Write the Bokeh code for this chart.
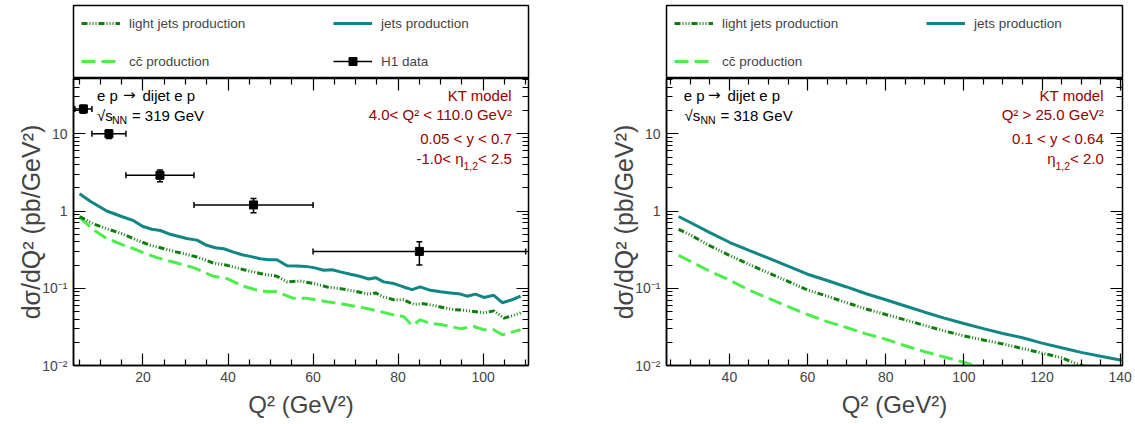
import math
import numpy as np
from bokeh.plotting import figure
from bokeh.layouts import column, row
from bokeh.core.properties import value
from bokeh.models import (Legend, LegendItem, LinearAxis, LogAxis, FixedTicker,
                          CustomJSTickFormatter, Whisker, TeeHead, ColumnDataSource, Range1d)
from bokeh.embed import file_html
from bokeh.resources import INLINE

FONT = "Liberation Sans"
TEAL = "#128585"
DARKGREEN = "#0f7d0f"
LIGHTGREEN = "#4ded4d"
MAROON = "#990000"

# ---------------- data: left panel (4 < Q2 < 110, sqrt(s)=319 GeV) ----------------
left_jets_q2 = [5.1, 7.6, 11.5, 15.0, 17.8, 20.0, 22.1, 24.1, 26.4, 30.3, 32.7, 35.0, 37.0, 39.0,
                41.3, 43.3, 45.2, 47.6, 49.6, 51.5, 53.9, 56.2, 58.2, 60.2, 62.5, 64.5, 66.4, 68.8,
                70.7, 73.1, 74.7, 76.6, 79.0, 81.3, 83.3, 85.2, 87.6, 90.0, 92.3, 94.7, 96.2, 98.2,
                100.2, 102.5, 104.5, 106.8, 108.8]
left_jets = [1.67, 1.34, 1.0, 0.85, 0.75, 0.63, 0.58, 0.56, 0.50, 0.44, 0.42, 0.36, 0.335, 0.325,
             0.294, 0.272, 0.259, 0.241, 0.234, 0.234, 0.196, 0.194, 0.192, 0.185, 0.171, 0.174,
             0.163, 0.152, 0.144, 0.132, 0.137, 0.121, 0.115, 0.104, 0.096, 0.104, 0.094, 0.090,
             0.087, 0.084, 0.079, 0.084, 0.076, 0.081, 0.065, 0.071, 0.079]

left_light_q2 = [5.1, 8.4, 11.5, 15.0, 18.6, 21.7, 24.1, 28.0, 32.7, 36.6, 39.8, 43.7, 47.6, 51.5,
                 53.9, 57.0, 60.2, 63.3, 66.4, 69.6, 73.1, 74.7, 76.6, 79.0, 81.3, 83.7, 86.0, 88.4,
                 90.7, 93.1, 95.4, 97.8, 100.2, 102.5, 104.9, 106.8, 108.8]
left_light = [0.85, 0.68, 0.59, 0.51, 0.42, 0.36, 0.335, 0.294, 0.254, 0.212, 0.198, 0.174, 0.155,
              0.143, 0.121, 0.124, 0.115, 0.104, 0.099, 0.092, 0.084, 0.087, 0.077, 0.071, 0.071,
              0.062, 0.063, 0.060, 0.056, 0.053, 0.052, 0.050, 0.048, 0.051, 0.041, 0.044, 0.048]

left_cc_q2 = [5.1, 8.4, 11.5, 15.0, 17.8, 20.2, 23.3, 28.0, 31.9, 36.6, 39.8, 43.7, 47.6, 51.5,
              55.4, 58.6, 63.3, 67.2, 71.1, 75.1, 79.0, 81.3, 83.3, 85.2, 87.6, 90.0, 92.3, 94.7,
              97.8, 100.2, 102.5, 104.5, 108.8]
left_cc = [0.83, 0.57, 0.44, 0.37, 0.325, 0.286, 0.249, 0.212, 0.185, 0.143, 0.133, 0.106, 0.092,
           0.090, 0.074, 0.074, 0.067, 0.062, 0.057, 0.051, 0.045, 0.043, 0.033, 0.039, 0.035,
           0.034, 0.032, 0.030, 0.032, 0.029, 0.029, 0.025, 0.029]

# H1 data points
h1_q2 = [6.0, 12.0, 24.0, 46.0, 85.0]
h1_q2_lo = [4.0, 8.0, 16.0, 32.0, 60.0]
h1_q2_hi = [8.0, 16.0, 32.0, 60.0, 110.0]
h1_xsec = [21.0, 10.0, 2.9, 1.2, 0.30]
h1_err = [2.5, 1.3, 0.5, 0.25, 0.10]

# ---------------- data: right panel (Q2 > 25, sqrt(s)=318 GeV) ----------------
right_jets_q2 = [27, 30, 35, 40, 45, 50, 55, 60, 65, 70, 75, 80, 85, 90, 95, 100, 105, 110, 115,
                 120, 125, 130, 135, 140.7]
right_jets = [0.85, 0.71, 0.525, 0.394, 0.31, 0.245, 0.193, 0.152, 0.126, 0.104, 0.085, 0.071,
              0.059, 0.049, 0.041, 0.035, 0.030, 0.026, 0.0229, 0.0195, 0.0170, 0.0148, 0.0132,
              0.0116]
right_light_q2 = [27, 30, 35, 40, 45, 50, 55, 60, 65, 70, 75, 80, 85, 90, 95, 100, 105, 110, 115,
                  120, 125, 130, 135]
right_light = [0.58, 0.49, 0.355, 0.267, 0.204, 0.158, 0.123, 0.095, 0.079, 0.065, 0.054, 0.0457,
               0.039, 0.033, 0.028, 0.0242, 0.0214, 0.019, 0.0166, 0.0145, 0.0126, 0.0100, 0.0087]
right_cc_q2 = [27, 30, 35, 40, 45, 50, 55, 60, 65, 70, 75, 80, 85, 90, 95, 100, 105]
right_cc = [0.267, 0.224, 0.166, 0.128, 0.095, 0.074, 0.058, 0.0457, 0.037, 0.031, 0.0257, 0.0219,
            0.018, 0.0151, 0.0129, 0.011, 0.0093]

# ---------------- ticks / texts ----------------
y_ticks = [0.01, 0.1, 1, 10]
y_tick_labels = ["10\u207b\u00b2", "10\u207b\u00b9", "1", "10"]
y_minor = [0.02, 0.03, 0.04, 0.05, 0.06, 0.07, 0.08, 0.09, 0.2, 0.3, 0.4, 0.5, 0.6, 0.7, 0.8, 0.9,
           2, 3, 4, 5, 6, 7, 8, 9, 20, 30, 40, 50]
left_x_ticks = [20, 40, 60, 80, 100]
left_x_minor = [5, 10, 15, 25, 30, 35, 45, 50, 55, 65, 70, 75, 85, 90, 95, 105, 110]
right_x_ticks = [40, 60, 80, 100, 120, 140]
right_x_minor = [25, 30, 35, 45, 50, 55, 65, 70, 75, 85, 90, 95, 105, 110, 115, 125, 130, 135]

legend_labels = ["light jets production", "jets production", "cc\u0304 production", "H1 data"]

YLABEL = "d\u03c3/dQ\u00b2 (pb/GeV\u00b2)"
XLABEL = "Q\u00b2 (GeV\u00b2)"

left_texts = ["e p", "dijet e p", "\u221as", "NN", "= 319 GeV",
              "KT model", "4.0< Q\u00b2 < 110.0 GeV\u00b2", "0.05 < y < 0.7",
              "< 2.5", "1,2", "-1.0< \u03b7"]
right_texts = ["e p", "dijet e p", "\u221as", "NN", "= 318 GeV",
               "KT model", "Q\u00b2 > 25.0 GeV\u00b2", "0.1 < y < 0.64",
               "< 2.0", "1,2", "\u03b7"]
ARROW = "\u2192"

LIGHT_DASH = "6 2 1 2 1 2 1 2"
CC_DASH = "14 6"

FRAME_H = 287
YR = (0.01, 52.0)


def make_main(xr, xt, xminor, width, bl, br):
    p = figure(width=width, height=346, x_range=Range1d(*xr), y_range=Range1d(*YR),
               y_axis_type="log", output_backend="svg", toolbar_location=None,
               min_border_left=bl, min_border_right=br, min_border_top=0, min_border_bottom=59)
    p.title.visible = False
    p.grid.visible = False
    p.outline_line_color = "black"
    p.outline_line_width = 1.5
    p.background_fill_color = "white"
    fmt = CustomJSTickFormatter(args=dict(yt=y_ticks, yl=y_tick_labels), code="""
        for (let i = 0; i < yt.length; i++) {
            if (Math.abs(Math.log10(yt[i]) - Math.log10(tick)) < 1e-6) return yl[i];
        }
        return "";
    """)
    for ax in p.axis:
        ax.axis_label_text_font = FONT
        ax.axis_label_text_font_style = "normal"
        ax.major_label_text_font = FONT
        ax.major_label_text_font_size = "14px"
        ax.major_tick_in = 12
        ax.major_tick_out = 0
        ax.minor_tick_in = 6
        ax.minor_tick_out = 0
        ax.axis_line_width = 1.5
        ax.major_tick_line_width = 1.2
        ax.minor_tick_line_width = 1.2
    for ax in p.yaxis:
        ax.ticker = FixedTicker(ticks=y_ticks, minor_ticks=y_minor)
        ax.formatter = fmt
        ax.axis_label = YLABEL
        ax.axis_label_text_font_size = "25px"
        ax.axis_label_standoff = -6
        ax.major_label_standoff = 6
    for ax in p.xaxis:
        ax.ticker = FixedTicker(ticks=xt, minor_ticks=xminor)
        ax.axis_label = XLABEL
        ax.axis_label_text_font_size = "24px"
        ax.axis_label_standoff = 6
        ax.major_label_standoff = 6
    # mirrored axes (ticks only)
    blank = CustomJSTickFormatter(code="return '';")
    top = LinearAxis(ticker=FixedTicker(ticks=xt, minor_ticks=xminor), formatter=blank)
    right = LogAxis(ticker=FixedTicker(ticks=y_ticks, minor_ticks=y_minor), formatter=blank)
    for ax in (top, right):
        ax.major_label_text_font_size = "1px"
        ax.major_label_standoff = 0
        ax.major_tick_in = 12
        ax.major_tick_out = 0
        ax.minor_tick_in = 6
        ax.minor_tick_out = 0
        ax.axis_line_alpha = 0
        ax.major_tick_line_width = 1.2
        ax.minor_tick_line_width = 1.2
    p.add_layout(top, "above")
    p.add_layout(right, "right")
    return p


def make_legend_fig(width, bl, br, with_h1):
    lf = figure(width=width, height=78, x_range=(0, 1), y_range=(0, 1),
                output_backend="svg", toolbar_location=None,
                x_axis_location=None, y_axis_location=None,
                min_border_left=bl, min_border_right=br, min_border_top=5, min_border_bottom=0)
    lf.title.visible = False
    lf.grid.visible = False
    lf.outline_line_color = "black"
    lf.outline_line_width = 1.5
    nan = np.array([np.nan])
    r_light = lf.line(nan, nan, line_color=DARKGREEN, line_width=3, line_dash=LIGHT_DASH)
    r_jets = lf.line(nan, nan, line_color=TEAL, line_width=3)
    r_cc = lf.line(nan, nan, line_color=LIGHTGREEN, line_width=3, line_dash=CC_DASH)
    col1 = [LegendItem(label=legend_labels[0], renderers=[r_light]),
            LegendItem(label=legend_labels[2], renderers=[r_cc])]
    col2 = [LegendItem(label=legend_labels[1], renderers=[r_jets])]
    if with_h1:
        r_h1l = lf.line(nan, nan, line_color="black", line_width=1.5)
        r_h1p = lf.scatter(nan, nan, marker="square", size=8, color="black")
        col2.append(LegendItem(label=legend_labels[3], renderers=[r_h1l, r_h1p]))
    for items, loc in ((col1, (8, 7)), (col2, (260, 7 if with_h1 else 45))):
        lg = Legend(items=items, location=loc, glyph_width=39, glyph_height=20, label_height=20,
                    label_standoff=9, spacing=18, padding=0, margin=0,
                    border_line_alpha=0, background_fill_alpha=0,
                    label_text_font=FONT, label_text_font_size="13.5px")
        lf.add_layout(lg)
    return lf


def add_texts(p, xr, fw, texts, sxs, sys_, align, size, color, font=FONT):
    """Place texts at frame-relative pixel offsets converted through the axis ranges."""
    lo, hi = math.log10(YR[0]), math.log10(YR[1])
    xs = [xr[0] + sx / fw * (xr[1] - xr[0]) for sx in sxs]
    ys = [10 ** (lo + sy / FRAME_H * (hi - lo)) for sy in sys_]
    src = ColumnDataSource(dict(x=xs, y=ys, t=texts))
    p.text("x", "y", text="t", source=src, text_align=align, text_baseline="middle",
           text_font=value(font), text_font_size=value(size), text_color=color)


def draw_curves(p, jq, jv, lq, lv, cq, cv):
    p.line(cq, cv, line_color=LIGHTGREEN, line_width=3, line_dash=CC_DASH)
    p.line(lq, lv, line_color=DARKGREEN, line_width=3, line_dash=LIGHT_DASH)
    p.line(jq, jv, line_color=TEAL, line_width=3)


# ---------------- left panel ----------------
XR_L = (3.67, 110.66)
pL = make_main(XR_L, left_x_ticks, left_x_minor, 568, 73, 40)
draw_curves(pL, left_jets_q2, left_jets, left_light_q2, left_light, left_cc_q2, left_cc)
src = ColumnDataSource(dict(x=h1_q2, xlo=h1_q2_lo, xhi=h1_q2_hi, y=h1_xsec,
                            ylo=[v - e for v, e in zip(h1_xsec, h1_err)],
                            yhi=[v + e for v, e in zip(h1_xsec, h1_err)]))
pL.add_layout(Whisker(source=src, base="y", lower="xlo", upper="xhi", dimension="width",
                      line_color="black", line_width=1.5,
                      lower_head=TeeHead(size=6, line_width=1.5, line_color="black"),
                      upper_head=TeeHead(size=6, line_width=1.5, line_color="black")))
pL.add_layout(Whisker(source=src, base="x", lower="ylo", upper="yhi", dimension="height",
                      line_color="black", line_width=1.5,
                      lower_head=TeeHead(size=6, line_width=1.5, line_color="black"),
                      upper_head=TeeHead(size=6, line_width=1.5, line_color="black")))
pL.scatter("x", "y", source=src, marker="square", size=8, color="black")

FW_L = 455
add_texts(pL, XR_L, FW_L, [left_texts[0], left_texts[1], left_texts[2], left_texts[4]],
          [23.4, 69.0, 23.4, 58.4], [270, 270, 250.5, 250.5], "left", "15px", "black")
add_texts(pL, XR_L, FW_L, [ARROW], [49.5], [271], "left", "15px", "black", font="DejaVu Sans")
add_texts(pL, XR_L, FW_L, [left_texts[3]], [38.4], [245.5], "left", "10.5px", "black")
add_texts(pL, XR_L, FW_L, [left_texts[5], left_texts[6], left_texts[7], left_texts[8], left_texts[10]],
          [438.4, 438.4, 438.4, 438.4, 390], [270, 251, 227, 207, 207], "right", "15px", MAROON)
add_texts(pL, XR_L, FW_L, [left_texts[9]], [404.5], [199.5], "right", "10.5px", MAROON)

legL = make_legend_fig(568, 73, 40, True)

# ---------------- right panel ----------------
XR_R = (23.9, 140.6)
pR = make_main(XR_R, right_x_ticks, right_x_minor, 567, 98, 13)
draw_curves(pR, right_jets_q2, right_jets, right_light_q2, right_light, right_cc_q2, right_cc)

FW_R = 456
add_texts(pR, XR_R, FW_R, [right_texts[0], right_texts[1], right_texts[2], right_texts[4]],
          [17.3, 61.0, 18.0, 54.0], [270, 270, 250.5, 250.5], "left", "15px", "black")
add_texts(pR, XR_R, FW_R, [ARROW], [41.5], [271], "left", "15px", "black", font="DejaVu Sans")
add_texts(pR, XR_R, FW_R, [right_texts[3]], [34.0], [245.5], "left", "10.5px", "black")
add_texts(pR, XR_R, FW_R, [right_texts[5], right_texts[6], right_texts[7], right_texts[8], right_texts[10]],
          [437.3, 437.3, 437.3, 437.3, 389], [270, 251, 227, 207, 207], "right", "15px", MAROON)
add_texts(pR, XR_R, FW_R, [right_texts[9]], [403.5], [199.5], "right", "10.5px", MAROON)

legR = make_legend_fig(567, 98, 13, False)

layout = row(column(legL, pL), column(legR, pR))
open("out.html", "w").write(file_html(layout, INLINE))
